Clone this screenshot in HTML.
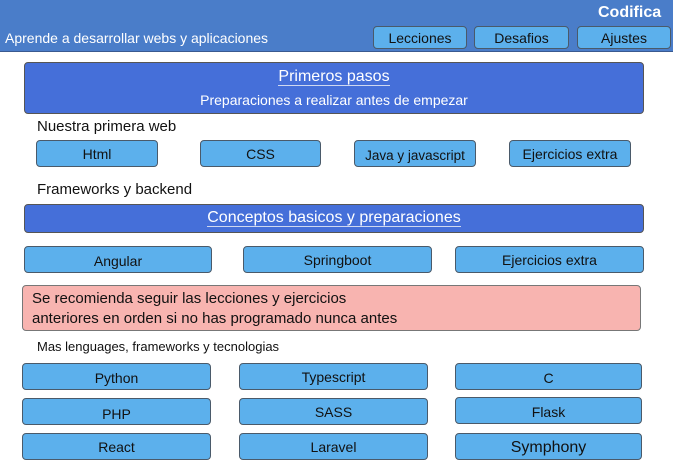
<!DOCTYPE html>
<html><head><meta charset="utf-8"><style>
body{margin:0;width:676px;height:476px;background:#fff;position:relative;overflow:hidden;font-family:"Liberation Sans",sans-serif;}
div{position:absolute;box-sizing:border-box;}
.b{background:#5cb0ec;border:1px solid #4a5a6a;border-radius:4px;color:#111;text-align:center;font-size:14px;display:flex;align-items:center;justify-content:center;padding-top:1px;}
.t{color:#111;white-space:nowrap;}
</style></head><body>
<div style="left:0;top:0;width:673px;height:52px;background:#4a7dc9;border-bottom:1px solid #3a5a90;"></div>
<div class="t" style="left:598px;top:4px;font-size:16px;font-weight:bold;color:#fff;">Codifica</div>
<div class="t" style="left:5px;top:30px;font-size:14px;color:#fff;">Aprende a desarrollar webs y aplicaciones</div>
<div class="b" style="left:373px;top:26px;width:94px;height:23px;">Lecciones</div>
<div class="b" style="left:474px;top:26px;width:95px;height:23px;">Desafios</div>
<div class="b" style="left:577px;top:26px;width:94px;height:23px;">Ajustes</div>
<div style="left:24px;top:62px;width:620px;height:52px;background:#456fd9;border:1px solid #555;border-radius:4px;color:#fff;text-align:center;">
<div style="left:0;right:0;top:5px;font-size:16px;"><span style="border-bottom:1px solid #cfd8f0;">Primeros pasos</span></div>
<div style="left:0;right:0;top:29px;font-size:14px;">Preparaciones a realizar antes de empezar</div>
</div>
<div class="t" style="left:37px;top:118px;font-size:15px;">Nuestra primera web</div>
<div class="b" style="left:36px;top:140px;width:122px;height:27px;">Html</div>
<div class="b" style="left:200px;top:140px;width:121px;height:27px;">CSS</div>
<div class="b" style="left:354px;top:140px;width:122px;height:27px;font-size:13.5px;padding-top:3px;">Java y javascript</div>
<div class="b" style="left:509px;top:140px;width:122px;height:27px;">Ejercicios extra</div>
<div class="t" style="left:37px;top:181px;font-size:15px;">Frameworks y backend</div>
<div style="left:24px;top:204px;width:620px;height:29px;background:#456fd9;border:1px solid #555;border-radius:4px;color:#fff;text-align:center;font-size:16px;line-height:25px;"><span style="border-bottom:1px solid #cfd8f0;">Conceptos basicos y preparaciones</span></div>
<div class="b" style="left:24px;top:246px;width:188px;height:27px;padding-top:3px;">Angular</div>
<div class="b" style="left:243px;top:246px;width:189px;height:27px;">Springboot</div>
<div class="b" style="left:455px;top:246px;width:189px;height:27px;">Ejercicios extra</div>
<div style="left:22px;top:285px;width:619px;height:46px;background:#f8b4b0;border:1px solid #777;border-radius:4px;color:#111;font-size:15px;line-height:20px;padding:3px 0 0 9px;">Se recomienda seguir las lecciones y ejercicios<br>anteriores en orden si no has programado nunca antes</div>
<div class="t" style="left:37px;top:339px;font-size:13px;">Mas lenguages, frameworks y tecnologias</div>
<div class="b" style="left:22px;top:363px;width:189px;height:27px;padding-top:3px;">Python</div>
<div class="b" style="left:239px;top:363px;width:189px;height:27px;">Typescript</div>
<div class="b" style="left:455px;top:363px;width:187px;height:27px;padding-top:3px;">C</div>
<div class="b" style="left:22px;top:398px;width:189px;height:27px;padding-top:4px;">PHP</div>
<div class="b" style="left:239px;top:398px;width:189px;height:27px;">SASS</div>
<div class="b" style="left:455px;top:397px;width:187px;height:27px;padding-top:3px;">Flask</div>
<div class="b" style="left:22px;top:433px;width:189px;height:27px;">React</div>
<div class="b" style="left:239px;top:433px;width:189px;height:27px;">Laravel</div>
<div class="b" style="left:455px;top:433px;width:187px;height:27px;font-size:16px;padding-top:3px;">Symphony</div>
</body></html>
